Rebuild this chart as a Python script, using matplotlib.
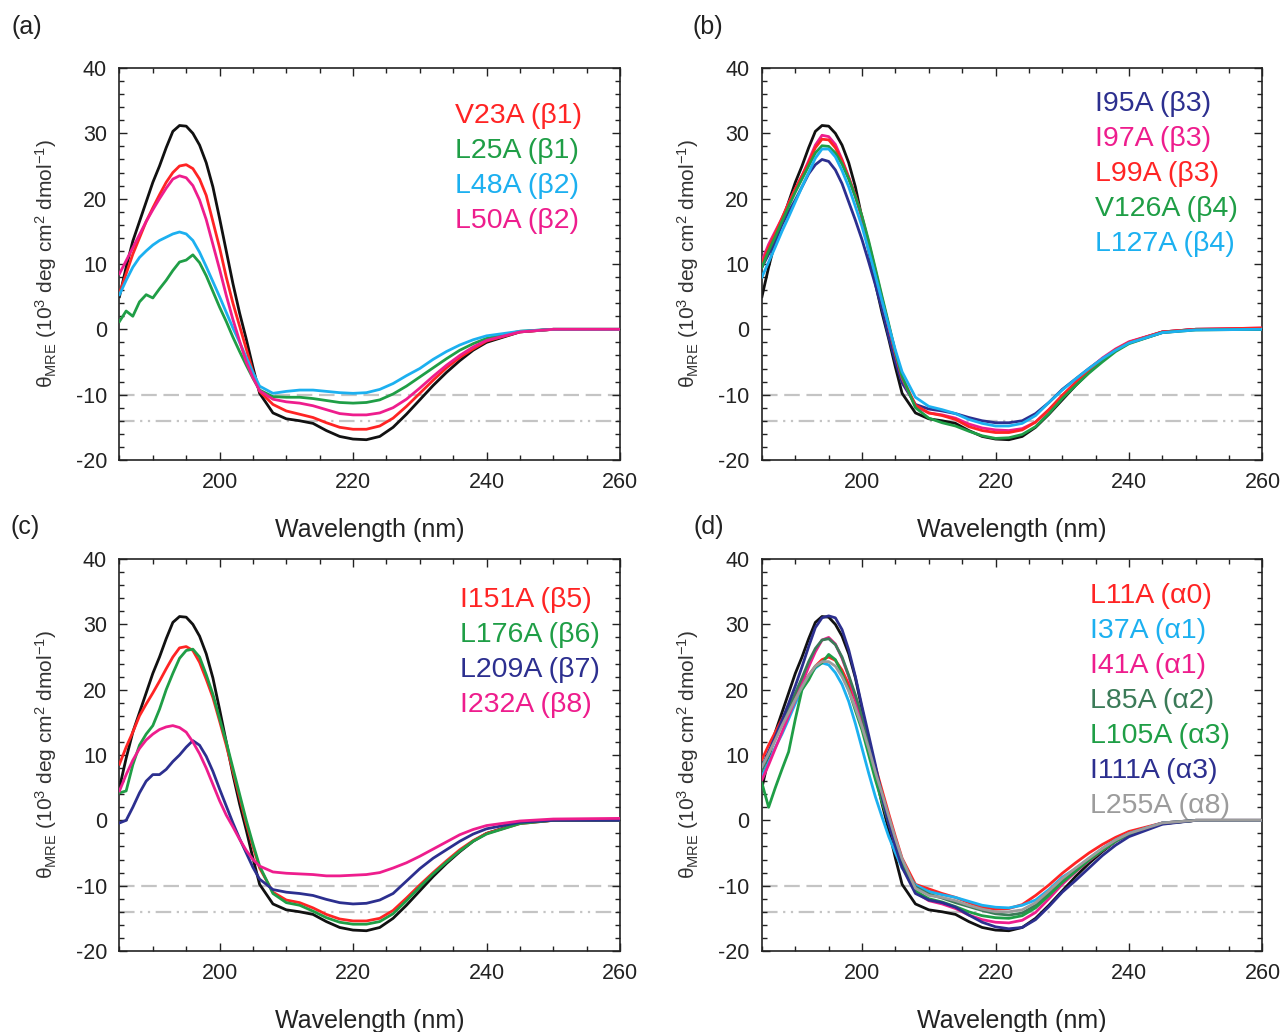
import matplotlib
matplotlib.use("Agg")
import matplotlib.pyplot as plt
from matplotlib.ticker import MultipleLocator

plt.rcParams['font.family'] = ['Liberation Sans', 'DejaVu Sans']
plt.rcParams['axes.unicode_minus'] = False
plt.rcParams['mathtext.fontset'] = 'custom'
plt.rcParams['mathtext.rm'] = 'Liberation Sans'
plt.rcParams['mathtext.it'] = 'Liberation Sans:italic'

# --- data: wavelength grid (nm) and mean residue ellipticity (10^3 deg cm2 dmol-1) ---
wl = list(range(185, 207)) + list(range(208, 241, 2)) + [245, 250, 260]

wt = [5.0, 9.5, 13.5, 16.5, 19.5, 22.5, 25.0, 27.8, 30.3, 31.2, 31.1, 30.0, 28.2, 25.5, 21.8, 17.0,
      12.0, 7.0, 2.5, -1.5, -5.8, -9.8,
      -12.8, -13.7, -14.0, -14.4, -15.5, -16.4, -16.8, -16.9, -16.4, -15.0, -13.0, -10.8, -8.6, -6.6,
      -4.8, -3.2, -2.0,
      -0.4, 0.0, 0.0]

# panel (a)
v23a = [5.5, 8.5, 11.5, 14.0, 16.5, 18.6, 20.6, 22.5, 24.0, 25.0, 25.2, 24.6, 23.0, 20.5, 16.5, 12.5,
        8.0, 4.0, 0.5, -3.0, -6.5, -9.5,
        -11.5, -12.5, -13.0, -13.5, -14.3, -15.0, -15.3, -15.3, -14.8, -13.6, -11.8, -9.8, -7.8, -5.9,
        -4.3, -3.0, -1.8,
        -0.4, 0.0, 0.0]
l25a = [1.2, 2.8, 2.0, 4.2, 5.3, 4.8, 6.2, 7.5, 9.0, 10.3, 10.6, 11.4, 10.2, 8.2, 5.8, 3.4,
        1.2, -1.2, -3.4, -5.5, -7.5, -9.3,
        -10.3, -10.4, -10.4, -10.6, -10.9, -11.2, -11.3, -11.2, -10.8, -9.9, -8.7, -7.3, -5.9, -4.5,
        -3.2, -2.2, -1.4,
        -0.3, 0.0, 0.0]
l48a = [5.3, 7.5, 9.5, 11.0, 12.0, 12.9, 13.6, 14.1, 14.6, 14.9, 14.6, 13.6, 11.8, 9.6, 7.3, 5.0,
        2.6, 0.2, -2.0, -4.3, -6.6, -8.7,
        -9.8, -9.5, -9.3, -9.3, -9.5, -9.7, -9.8, -9.7, -9.2, -8.3, -7.1, -6.0, -4.6, -3.4,
        -2.4, -1.6, -1.0,
        -0.3, 0.0, 0.0]
l50a = [8.5, 10.5, 12.5, 14.5, 16.5, 18.3, 20.0, 21.6, 23.0, 23.5, 23.2, 22.0, 19.8, 16.8, 13.0, 9.2,
        5.2, 1.5, -1.8, -5.0, -7.4, -9.4,
        -10.7, -11.1, -11.3, -11.7, -12.3, -12.9, -13.1, -13.1, -12.8, -12.0, -10.7, -9.0, -7.2, -5.5,
        -4.0, -2.7, -1.7,
        -0.4, 0.0, 0.0]

# panel (b)
i95a = [9.5, 11.5, 13.5, 16.0, 18.0, 19.8, 21.8, 23.8, 25.2, 26.0, 25.7, 24.4, 22.3, 19.5, 16.7, 13.7,
        10.3, 6.8, 3.0, -1.2, -5.0, -8.2,
        -11.5, -12.2, -12.5, -12.9, -13.5, -14.0, -14.3, -14.3, -14.0, -12.9, -11.2, -9.2, -7.6, -6.0,
        -4.5, -3.2, -2.1,
        -0.5, 0.0, 0.0]
i97a = [10.5, 13.0, 15.0, 17.0, 19.3, 21.5, 23.5, 25.8, 28.2, 29.7, 29.5, 28.3, 26.0, 23.3, 20.3, 17.0,
        13.0, 8.8, 4.5, 0.4, -3.8, -7.5,
        -11.8, -12.8, -13.1, -13.6, -14.5, -15.1, -15.4, -15.5, -15.2, -14.2, -12.3, -10.2, -8.1, -6.1,
        -4.4, -3.0, -1.9,
        -0.4, 0.0, 0.2]
l99a = [10.0, 12.5, 14.7, 17.0, 19.3, 21.5, 23.5, 25.5, 27.8, 29.1, 29.0, 27.8, 25.8, 23.2, 20.5, 17.2,
        13.2, 9.0, 4.7, 0.5, -3.6, -7.3,
        -11.6, -12.8, -13.2, -13.8, -14.9, -15.5, -15.8, -15.8, -15.4, -14.2, -12.3, -10.1, -8.2, -6.3,
        -4.6, -3.1, -2.0,
        -0.4, 0.0, 0.2]
v126a = [9.5, 12.0, 14.2, 16.5, 18.8, 21.0, 23.0, 25.0, 27.0, 28.1, 28.0, 27.0, 25.3, 23.0, 20.3, 17.3,
         13.5, 9.3, 5.0, 0.8, -3.5, -7.2,
         -12.0, -13.6, -14.3, -14.8, -15.6, -16.3, -16.7, -16.6, -16.1, -14.9, -12.9, -10.6, -8.6, -6.7,
         -5.0, -3.4, -2.2,
         -0.5, -0.1, 0.0]
l127a = [8.0, 10.3, 12.6, 15.0, 17.2, 19.5, 21.8, 24.0, 26.2, 27.6, 27.6, 26.4, 24.3, 21.8, 18.8, 15.7,
         12.0, 8.2, 4.3, 0.5, -3.2, -6.5,
         -10.4, -11.8, -12.3, -12.9, -13.8, -14.4, -14.8, -14.8, -14.4, -13.2, -11.2, -9.3, -7.6, -6.0,
         -4.5, -3.2, -2.1,
         -0.5, -0.1, 0.0]

# panel (c)
i151a = [8.6, 11.2, 13.5, 16.0, 17.8, 19.5, 21.3, 23.2, 25.0, 26.4, 26.6, 26.0, 24.2, 21.6, 18.8, 15.2,
         11.5, 7.5, 3.5, -0.5, -4.0, -7.3,
         -11.0, -12.2, -12.6, -13.4, -14.4, -15.1, -15.4, -15.4, -15.0, -13.8, -11.9, -9.9, -8.0, -6.2,
         -4.5, -3.1, -2.0,
         -0.5, 0.0, 0.0]
l176a = [4.2, 4.5, 8.5, 11.5, 13.2, 14.5, 17.0, 20.0, 22.5, 24.8, 26.0, 26.2, 25.0, 22.3, 19.3, 15.6,
         12.0, 8.0, 4.0, 0.0, -3.6, -7.0,
         -11.2, -12.6, -13.0, -13.9, -14.9, -15.6, -15.9, -15.9, -15.5, -14.3, -12.3, -10.2, -8.2, -6.4,
         -4.7, -3.2, -2.1,
         -0.5, 0.0, 0.0]
l209a = [-0.4, 0.0, 2.0, 4.2, 6.0, 7.0, 7.0, 7.8, 9.0, 10.0, 11.2, 12.2, 11.5, 9.8, 7.5, 4.8,
         2.2, -0.4, -2.8, -5.0, -7.2, -9.0,
         -10.6, -11.0, -11.2, -11.5, -12.1, -12.6, -12.8, -12.7, -12.2, -11.2, -9.3, -7.4, -5.8, -4.5,
         -3.2, -2.1, -1.3,
         -0.3, 0.0, 0.0]
i232a = [4.5, 7.0, 9.2, 11.0, 12.3, 13.2, 13.9, 14.3, 14.5, 14.2, 13.5, 12.0, 10.2, 8.0, 5.5, 3.0,
         0.8, -1.0, -2.9, -4.6, -6.0, -7.0,
         -7.9, -8.1, -8.2, -8.3, -8.5, -8.5, -8.4, -8.3, -8.0, -7.3, -6.5, -5.5, -4.4, -3.3,
         -2.2, -1.4, -0.8,
         -0.1, 0.2, 0.3]

# panel (d)
l11a = [9.3, 11.5, 13.5, 15.5, 17.3, 19.0, 20.7, 22.2, 23.6, 24.6, 25.0, 24.5, 23.0, 20.8, 18.4, 15.2,
        11.8, 8.2, 4.6, 1.0, -2.5, -5.8,
        -9.8, -10.5, -11.2, -11.8, -12.6, -13.3, -13.6, -13.5, -12.9, -11.5, -9.9, -8.1, -6.5, -5.0,
        -3.7, -2.6, -1.7,
        -0.4, 0.0, 0.0]
i37a = [6.7, 9.0, 11.2, 13.2, 15.5, 17.9, 20.0, 22.0, 23.3, 24.1, 23.8, 22.6, 20.8, 18.2, 14.8, 11.0,
        7.2, 3.6, 0.5, -2.5, -5.0, -7.3,
        -9.9, -10.9, -11.4, -11.8, -12.4, -13.0, -13.3, -13.4, -13.0, -12.2, -10.6, -8.7, -7.4, -5.8,
        -4.3, -3.0, -2.0,
        -0.4, 0.0, 0.0]
i41a = [6.2, 8.5, 11.0, 13.5, 16.0, 18.4, 21.0, 23.5, 25.8, 27.6, 28.0, 27.0, 24.8, 22.0, 18.5, 14.9,
        10.8, 6.7, 3.0, -0.4, -3.8, -7.0,
        -11.0, -12.3, -12.8, -13.5, -14.5, -15.2, -15.6, -15.7, -15.3, -14.1, -12.0, -9.8, -7.9, -6.2,
        -4.6, -3.2, -2.1,
        -0.5, 0.0, 0.0]
l85a = [7.7, 10.0, 12.5, 14.8, 17.2, 19.5, 21.8, 24.3, 26.3, 27.6, 27.8, 26.9, 25.0, 22.2, 19.2, 15.9,
        12.0, 7.9, 4.0, 0.2, -3.2, -6.3,
        -10.2, -11.3, -11.9, -12.6, -13.2, -13.8, -14.3, -14.5, -14.2, -13.0, -11.2, -9.2, -7.6, -6.0,
        -4.5, -3.1, -2.1,
        -0.5, 0.0, 0.0]
l105a = [5.7, 2.0, 5.0, 7.8, 10.5, 15.5, 20.0, 21.5, 23.5, 24.1, 25.4, 24.6, 22.5, 20.0, 16.8, 13.8,
         10.0, 6.2, 2.8, -0.4, -3.6, -6.8,
         -10.8, -12.0, -12.5, -13.2, -14.0, -14.6, -14.9, -15.0, -14.6, -13.4, -11.5, -9.5, -7.8, -6.1,
         -4.6, -3.2, -2.1,
         -0.5, 0.0, 0.0]
i111a = [8.2, 10.5, 12.8, 15.3, 17.9, 20.6, 23.5, 26.6, 29.5, 31.0, 31.3, 31.0, 29.2, 26.1, 22.0, 17.4,
         13.0, 8.5, 3.6, -0.5, -4.0, -7.2,
         -11.2, -12.2, -12.6, -13.3, -14.5, -15.6, -16.3, -16.6, -16.4, -15.2, -13.2, -11.0, -9.2, -7.3,
         -5.4, -3.8, -2.5,
         -0.6, 0.0, 0.0]
l255a = [8.2, 10.2, 12.3, 14.5, 16.5, 18.5, 20.4, 22.2, 23.6, 24.3, 24.3, 23.6, 22.0, 19.8, 17.2, 14.3,
         11.0, 7.4, 4.1, 0.6, -2.8, -5.9,
         -10.4, -11.5, -11.8, -12.3, -13.0, -13.6, -14.0, -14.0, -13.7, -12.6, -10.8, -8.9, -7.3, -5.8,
         -4.3, -3.0, -2.0,
         -0.4, 0.0, 0.0]

RED = '#ff2424'
GREEN = '#1f9e46'
SKY = '#1cb0f0'
PINK = '#ee1d8d'
NAVY = '#2c2f8f'
DKGREEN = '#3b7b58'
GRAY = '#9c9c9c'

panels = [
    ('(a)', [('V23A (β1)', v23a, RED), ('L25A (β1)', l25a, GREEN),
             ('L48A (β2)', l48a, SKY), ('L50A (β2)', l50a, PINK)]),
    ('(b)', [('I95A (β3)', i95a, NAVY), ('I97A (β3)', i97a, PINK), ('L99A (β3)', l99a, RED),
             ('V126A (β4)', v126a, GREEN), ('L127A (β4)', l127a, SKY)]),
    ('(c)', [('I151A (β5)', i151a, RED), ('L176A (β6)', l176a, GREEN),
             ('L209A (β7)', l209a, NAVY), ('I232A (β8)', i232a, PINK)]),
    ('(d)', [('L11A (α0)', l11a, RED), ('I37A (α1)', i37a, SKY), ('I41A (α1)', i41a, PINK),
             ('L85A (α2)', l85a, DKGREEN), ('L105A (α3)', l105a, GREEN),
             ('I111A (α3)', i111a, NAVY), ('L255A (α8)', l255a, GRAY)]),
]

rects = [[0.0929, 0.5543, 0.3892, 0.3798], [0.5925, 0.5543, 0.3892, 0.3798],
         [0.0929, 0.0785, 0.3892, 0.3798], [0.5925, 0.0785, 0.3892, 0.3798]]
tags = [(0.021, 0.974), (0.5505, 0.974), (0.0194, 0.4893), (0.551, 0.4893)]
legend_pos = [(235.3, 32.6), (234.9, 34.5), (236.0, 33.7), (234.2, 34.4)]

fig = plt.figure(figsize=(12.86, 10.32), dpi=100)

for i, (tag, series) in enumerate(panels):
    ax = fig.add_axes(rects[i])
    ax.axhline(-10, color='#c4c4c4', lw=1.6, ls=(0, (7, 3)), zorder=1)
    ax.axhline(-14, color='#c4c4c4', lw=1.6, ls=(0, (7, 2.5, 1, 2.5, 1, 2.5)), zorder=1)
    ax.plot(wl, wt, color='#111111', lw=2.0, zorder=2)
    for name, y, c in series:
        ax.plot(wl, y, color=c, lw=2.0, zorder=3)

    lx, ly = legend_pos[i]
    for k, (name, y, c) in enumerate(series):
        ax.text(lx, ly - k * 5.36, name, color=c, fontsize=20.5, ha='left', va='center')

    ax.set_xlim(185, 260)
    ax.set_ylim(-20, 40)
    ax.xaxis.set_major_locator(MultipleLocator(20))
    ax.xaxis.set_minor_locator(MultipleLocator(5))
    ax.yaxis.set_major_locator(MultipleLocator(10))
    ax.yaxis.set_minor_locator(MultipleLocator(2))
    ax.tick_params(which='both', direction='in', top=True, right=True, width=1.0, colors='#222222')
    ax.tick_params(which='major', length=6, labelsize=15.5, pad=9)
    ax.tick_params(which='minor', length=3.5)
    for sp in ax.spines.values():
        sp.set_linewidth(1.2)
        sp.set_color('#222222')
    ax.set_xlabel('Wavelength (nm)', fontsize=18, labelpad=18, color='#222222')
    ax.set_ylabel('θ$_{\\rm MRE}$ (10$^3$ deg cm$^2$ dmol$^{-1}$)', fontsize=15, labelpad=12,
                  color='#333333')
    fig.text(tags[i][0], tags[i][1], tag, fontsize=18, ha='center', va='center', color='#222222')

fig.savefig('out.png', dpi=100)
